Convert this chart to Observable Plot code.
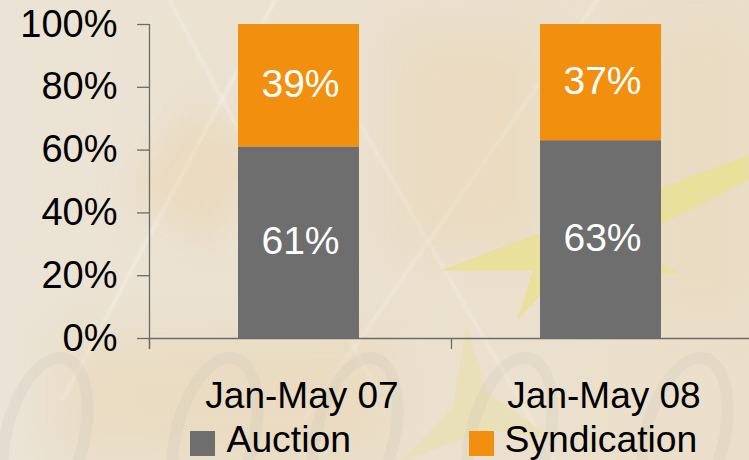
<!DOCTYPE html>
<html>
<head>
<meta charset="utf-8">
<script src="https://cdn.jsdelivr.net/npm/d3@7"></script>
<script src="https://cdn.jsdelivr.net/npm/@observablehq/plot@0.6"></script>
<style>
html,body{margin:0;padding:0;background:#ebe2d3;}
#stage{position:relative;width:749px;height:460px;overflow:hidden;font-family:"Liberation Sans",Arial,sans-serif;color:#000;
 background:
  linear-gradient(62deg,transparent 49.6%,rgba(255,255,255,.22) 50%,transparent 50.4%) -120px -70px/100% 100% no-repeat,
  linear-gradient(118deg,transparent 49.6%,rgba(255,255,255,.28) 50%,transparent 50.4%) -190px -60px/100% 100% no-repeat,
  linear-gradient(125deg,transparent 49.6%,rgba(255,255,255,.2) 50%,transparent 50.4%) 90px -40px/100% 100% no-repeat,
  linear-gradient(60deg,transparent 49.6%,rgba(255,255,255,.2) 50%,transparent 50.4%) 70px 40px/100% 100% no-repeat,
  linear-gradient(90deg,#ebe3d5 0%,#ebe1d0 45%,#ebdfca 100%);}
.deco{position:absolute;pointer-events:none;}
#blotA{left:150px;top:120px;width:100px;height:110px;background:rgba(232,205,160,.35);filter:blur(16px);transform:rotate(35deg);}
#blotB{left:390px;top:30px;width:150px;height:220px;background:rgba(232,208,165,.3);filter:blur(22px);}
#blotC{left:60px;top:335px;width:330px;height:125px;background:rgba(232,208,165,.35);filter:blur(22px);}
#blotD{left:640px;top:20px;width:110px;height:300px;background:rgba(232,213,180,.3);filter:blur(20px);}
#star{left:440px;top:155px;width:309px;height:165px;background:#e9e09c;filter:blur(1px);
 clip-path:polygon(0% 70%,100% 0%,100% 15%,58% 55%,78% 72%,40% 70%,25% 100%,30% 70%);}
#star2{left:385px;top:325px;width:170px;height:135px;background:#e8dfa8;opacity:.55;filter:blur(1px);
 clip-path:polygon(48% 0%,60% 50%,100% 85%,62% 78%,10% 100%,40% 60%);}
.ring{border:12px solid rgba(175,175,170,.13);border-radius:50%;width:66px;height:150px;transform:rotate(14deg);top:350px;}
#plot{position:absolute;left:0;top:0;}
#plot svg{background:transparent;display:block;}
.lg{position:absolute;top:431px;width:25px;height:25px;}
.lt{position:absolute;top:421px;font-size:37.3px;line-height:36px;white-space:nowrap;}
</style>
</head>
<body>
<div id="stage">
  <div class="deco" id="blotA"></div>
  <div class="deco" id="blotB"></div>
  <div class="deco" id="blotC"></div>
  <div class="deco" id="blotD"></div>
  <div class="deco" id="star"></div>
  <div class="deco" id="star2"></div>
  <div class="deco ring" style="left:0px"></div>
  <div class="deco ring" style="left:170px"></div>
  <div class="deco ring" style="left:310px"></div>
  <div class="deco ring" style="left:465px"></div>
  <div class="deco ring" style="left:640px"></div>
  <div id="plot"></div>
  <div class="lg" style="left:190px;background:#6e6e6e"></div>
  <div class="lt" style="left:226.5px">Auction</div>
  <div class="lg" style="left:469px;background:#f28f0e"></div>
  <div class="lt" style="left:504.5px">Syndication</div>
</div>
<script>
const periods = ["Jan-May 07", "Jan-May 08"];
const seriesNames = ["Auction", "Syndication"];
const auction = [61, 63];
const syndication = [39, 37];
const seriesColors = ["#6e6e6e", "#f28f0e"];
const yTicks = [0, 20, 40, 60, 80, 100];

const rows = seriesNames.flatMap((s, i) =>
  periods.map((p, j) => ({period: p, series: s, value: (i === 0 ? auction : syndication)[j]}))
);
const axisColor = "#6b6b68";

const chart = Plot.plot({
  width: 749,
  height: 425,
  marginLeft: 149,
  marginRight: 0,
  marginTop: 24,
  marginBottom: 87,
  style: {background: "transparent", fontFamily: '"Liberation Sans", Arial, sans-serif', overflow: "visible"},
  x: {domain: periods, range: [147.5, 751.5], paddingInner: 0.6, paddingOuter: 0.3, label: null},
  y: {domain: [0, 100], label: null},
  color: {domain: seriesNames, range: seriesColors},
  marks: [
    Plot.barY(rows, {x: "period", y: "value", fill: "series", order: seriesNames}),
    Plot.ruleY([0], {stroke: axisColor, strokeWidth: 1.5}),
    Plot.ruleX([periods[0]], {x: d => d, y1: -3.5, y2: 100, dx: -149.5, stroke: axisColor, strokeWidth: 1.3}),
    Plot.ruleX(periods, {x: d => d, y1: 0, y2: -3.5, dx: -149.5, stroke: axisColor, strokeWidth: 1.3}),
    Plot.axisY({
      ticks: yTicks, tickSize: 12, tickPadding: 20, stroke: axisColor, strokeWidth: 1.3,
      tickFormat: d => d + "%", fontSize: 38, fill: "#000", label: null
    }),
    Plot.axisX({tickSize: 0, tickPadding: 43, dx: 3, fontSize: 37, fill: "#000", label: null}),
    Plot.text(rows, Plot.stackY({
      x: "period", y: "value", z: "series", order: seriesNames,
      text: d => d.value + "%", fill: "white", fontSize: 39, dx: 1.5, dy: -1
    }))
  ]
});
document.getElementById("plot").appendChild(chart);
</script>
</body>
</html>
